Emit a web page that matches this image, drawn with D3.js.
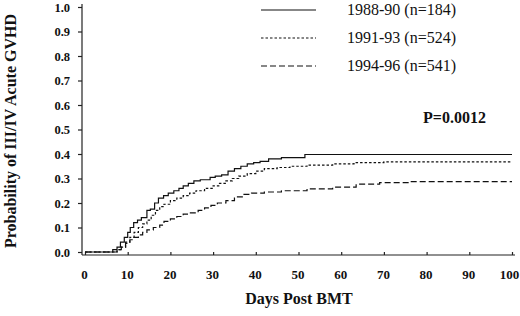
<!DOCTYPE html>
<html>
<head>
<meta charset="utf-8">
<script src="https://cdn.jsdelivr.net/npm/d3@7"></script>
<style>
  body { margin: 0; background: #fff; }
  svg { display: block; font-family: "Liberation Serif", "Times New Roman", serif; }
</style>
</head>
<body>
<div id="chart"></div>
<script>
// Cumulative incidence of grade III/IV acute GVHD, by transplant period
const xTicks = [0, 10, 20, 30, 40, 50, 60, 70, 80, 90, 100];
const yTicks = [0, 0.1, 0.2, 0.3, 0.4, 0.5, 0.6, 0.7, 0.8, 0.9, 1.0];

const labels = ["1988-90 (n=184)", "1991-93 (n=524)", "1994-96 (n=541)"];

const curve8890 = [
    [0, 0], [6, 0], [6.5, 0.01], [7.5, 0.02], [8.3, 0.04], [9.2, 0.06], [10, 0.08], [10.6, 0.1],
    [11.4, 0.12], [12.3, 0.13], [13.2, 0.14], [14.5, 0.17], [15.3, 0.175], [16.3, 0.2], [17.2, 0.22],
    [18.4, 0.23], [19.5, 0.24], [20.8, 0.25], [22, 0.26], [23, 0.27], [24.2, 0.28], [25.5, 0.29],
    [27, 0.295], [29.3, 0.305], [30.5, 0.31], [32, 0.315], [33.5, 0.33], [35, 0.34], [36.5, 0.35],
    [38, 0.36], [39.5, 0.365], [41, 0.37], [43, 0.38], [46, 0.385], [51.5, 0.398], [100, 0.398]
];
const curve9193 = [
    [0, 0], [6.5, 0], [7.5, 0.01], [8.5, 0.02], [9.5, 0.04], [10.5, 0.06], [11.5, 0.08], [12.5, 0.1],
    [13.5, 0.115], [14.5, 0.13], [15.5, 0.15], [16.5, 0.17], [17.5, 0.185], [18.5, 0.195], [20, 0.21],
    [21.5, 0.22], [23, 0.23], [24.5, 0.24], [26, 0.25], [28, 0.26], [30, 0.27], [31.5, 0.28], [33, 0.29],
    [34.5, 0.3], [36, 0.31], [38, 0.32], [40, 0.33], [42, 0.34], [45, 0.345], [48, 0.35], [52, 0.355],
    [58, 0.36], [63, 0.365], [70, 0.368], [100, 0.368]
];
const curve9496 = [
    [0, 0], [6.5, 0], [7.5, 0.01], [8.5, 0.02], [9.5, 0.035], [10.5, 0.05], [11.5, 0.06], [12.5, 0.07],
    [13.5, 0.08], [14.5, 0.09], [16, 0.1], [17.5, 0.11], [18.5, 0.125], [20, 0.135], [21.5, 0.145],
    [23, 0.155], [24.5, 0.16], [26.5, 0.17], [28, 0.18], [29.5, 0.19], [31, 0.2], [33, 0.21],
    [35, 0.225], [37, 0.235], [39, 0.24], [42, 0.245], [46, 0.25], [52, 0.258], [58, 0.265],
    [63.5, 0.277], [69, 0.283], [76, 0.287], [100, 0.287]
];

const series = [
    { label: labels[0], values: curve8890, dash: null },
    { label: labels[1], values: curve9193, dash: "2.5,2" },
    { label: labels[2], values: curve9496, dash: "6,3" }
];

const width = 520;
const height = 316;
const serif = "'Liberation Serif', 'Times New Roman', serif";

const x = d3.scaleLinear().domain([0, 100]).range([85, 512]);
const y = d3.scaleLinear().domain([0, 1]).range([252, 7]);

const svg = d3.select("#chart").append("svg")
    .attr("width", width)
    .attr("height", height);

// y axis
const yAxis = svg.append("g")
    .attr("transform", "translate(82,0)")
    .call(d3.axisLeft(y).tickValues(yTicks).tickFormat(d3.format(".1f")).tickSize(4).tickPadding(8));
yAxis.attr("font-family", serif).attr("font-size", 12.5).attr("font-weight", "bold");
yAxis.select(".domain").attr("d", "M0,4V255");
yAxis.selectAll("text").attr("fill", "#111");

// x axis
const xAxis = svg.append("g")
    .attr("transform", "translate(0,255)")
    .call(d3.axisBottom(x).tickValues(xTicks).tickSize(-3).tickPadding(15));
xAxis.attr("font-family", serif).attr("font-size", 13).attr("font-weight", "bold");
xAxis.select(".domain").attr("d", "M82,0H515");
xAxis.selectAll("text")
    .attr("fill", "#111")
    .attr("dx", d => d === 100 ? -3 : -1);

svg.selectAll(".domain, .tick line").attr("stroke", "#222").attr("stroke-width", 1.2);

// axis titles
svg.append("text")
    .attr("x", 299)
    .attr("y", 304)
    .attr("text-anchor", "middle")
    .attr("font-family", serif)
    .style("font-size", "16px")
    .style("font-weight", "bold")
    .attr("fill", "#111")
    .text("Days Post BMT");

svg.append("text")
    .attr("transform", "translate(16,131) rotate(-90)")
    .attr("text-anchor", "middle")
    .attr("font-family", serif)
    .style("font-size", "16px")
    .style("font-weight", "bold")
    .attr("fill", "#111")
    .text("Probability of III/IV Acute GVHD");

// curves
const line = d3.line()
    .x(d => x(d[0]))
    .y(d => y(d[1]))
    .curve(d3.curveStepAfter);

svg.append("g")
    .selectAll("path")
    .data(series)
    .join("path")
    .attr("d", d => line(d.values))
    .attr("fill", "none")
    .attr("stroke", "#111")
    .attr("stroke-width", 1.2)
    .attr("stroke-dasharray", d => d.dash);

// legend
const legend = svg.append("g").attr("font-family", serif);
const legendY = [10, 38, 66];
series.forEach((s, i) => {
    legend.append("line")
        .attr("x1", 261).attr("x2", 316)
        .attr("y1", legendY[i]).attr("y2", legendY[i])
        .attr("stroke", "#111")
        .attr("stroke-width", 1.1)
        .attr("stroke-dasharray", s.dash);
    legend.append("text")
        .attr("x", 347)
        .attr("y", legendY[i] + 5)
        .style("font-size", "16px")
        .attr("fill", "#111")
        .text(s.label);
});

svg.append("text")
    .attr("x", 423)
    .attr("y", 123)
    .attr("font-family", serif)
    .style("font-size", "16px")
    .style("font-weight", "bold")
    .attr("fill", "#111")
    .text("P=0.0012");
</script>
</body>
</html>
